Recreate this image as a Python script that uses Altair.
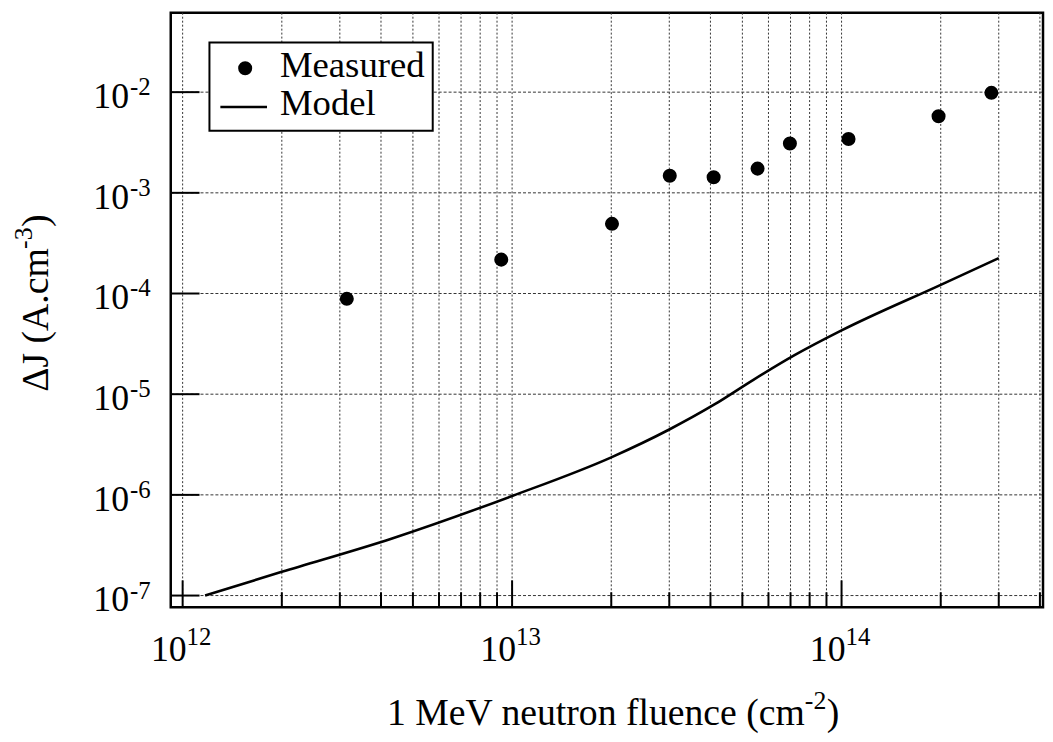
import altair as alt
import pandas as pd

# ---------------- data ----------------
measured_x = [3.15e12, 9.27e12, 2.01e13, 3.01e13, 4.09e13, 5.56e13, 6.97e13, 1.05e14, 1.97e14, 2.85e14]
measured_y = [8.85e-5, 2.17e-4, 4.92e-4, 1.475e-3, 1.43e-3, 1.74e-3, 3.09e-3, 3.42e-3, 5.76e-3, 9.84e-3]

model_x = [1.17e12, 2.0e12, 4.3e12, 1.0e13, 2.0e13, 3.0e13, 4.1e13, 5.4e13, 7.2e13, 1.0e14, 2.0e14, 3.0e14]
model_y = [1.0e-7, 1.72e-7, 3.67e-7, 9.75e-7, 2.36e-6, 4.46e-6, 7.86e-6, 1.39e-5, 2.44e-5, 4.3e-5, 1.22e-4, 2.25e-4]

x_major = [1e12, 1e13, 1e14]
x_major_exp = ["12", "13", "14"]
x_minor = [2e12, 3e12, 4e12, 5e12, 6e12, 7e12, 8e12, 9e12,
           2e13, 3e13, 4e13, 5e13, 6e13, 7e13, 8e13, 9e13,
           2e14, 3e14, 4e14]
y_major = [1e-7, 1e-6, 1e-5, 1e-4, 1e-3, 1e-2]
y_major_exp = ["-7", "-6", "-5", "-4", "-3", "-2"]

x_title_parts = ["1 MeV neutron fluence (cm", "-2", ")"]
y_title_parts = ["\u0394J (A.cm", "-3", ")"]
legend_labels = ["Measured", "Model"]

# ---------------- layout ----------------
W, H = 879, 599
FONT = "Liberation Serif"
FS = 36
FS_SUP = 25
FT = 38
FT_SUP = 26
FL = 37

xs = alt.Scale(type="log", domain=[10 ** 11.9639, 10 ** 14.6115], nice=False)
ys = alt.Scale(type="log", domain=[10 ** -7.1155, 10 ** -1.2115], nice=False)

df_meas = pd.DataFrame({"x": measured_x, "y": measured_y})
df_model = pd.DataFrame({"x": model_x, "y": model_y})
df_xgrid = pd.DataFrame({"v": x_major + x_minor})
df_xmaj = pd.DataFrame({"v": x_major, "base": ["10"] * len(x_major), "exp": x_major_exp})
df_xmin = pd.DataFrame({"v": x_minor})
df_ymaj = pd.DataFrame({"v": y_major, "base": ["10"] * len(y_major), "exp": y_major_exp})
one = pd.DataFrame({"k": [0]})

X = lambda f="v": alt.X(f"{f}:Q", scale=xs, axis=None)
Y = lambda f="v": alt.Y(f"{f}:Q", scale=ys, axis=None)

grid_color = "#333333"

vgrid = alt.Chart(df_xgrid).mark_rule(color=grid_color, strokeWidth=1, strokeDash=[2, 2]).encode(
    x=X(), y=alt.value(0), y2=alt.value(H))
hgrid = alt.Chart(df_ymaj).mark_rule(color=grid_color, strokeWidth=1, strokeDash=[3, 2]).encode(
    y=Y(), x=alt.value(0), x2=alt.value(W))

xtick_min = alt.Chart(df_xmin).mark_rule(color="black", strokeWidth=2).encode(
    x=X(), y=alt.value(H), y2=alt.value(H - 15))
xtick_maj = alt.Chart(df_xmaj).mark_rule(color="black", strokeWidth=2).encode(
    x=X(), y=alt.value(H), y2=alt.value(H - 27))
ytick_maj = alt.Chart(df_ymaj).mark_rule(color="black", strokeWidth=2).encode(
    y=Y(), x=alt.value(0), x2=alt.value(29))

xlab_base = alt.Chart(df_xmaj).mark_text(font=FONT, fontSize=FS, align="right", baseline="alphabetic", dx=4,
                                         color="black").encode(
    x=X(), y=alt.value(H + 54), text="base:N")
xlab_exp = alt.Chart(df_xmaj).mark_text(font=FONT, fontSize=FS_SUP, align="left", baseline="alphabetic", dx=4,
                                        color="black").encode(
    x=X(), y=alt.value(H + 38), text="exp:N")
ylab_base = alt.Chart(df_ymaj).mark_text(font=FONT, fontSize=FS, align="right", baseline="alphabetic", dy=16,
                                         color="black").encode(
    y=Y(), x=alt.value(-42), text="base:N")
ylab_exp = alt.Chart(df_ymaj).mark_text(font=FONT, fontSize=FS_SUP, align="left", baseline="alphabetic", dy=3,
                                        color="black").encode(
    y=Y(), x=alt.value(-41), text="exp:N")


def txt(s, x, y, size, align="left", angle=0):
    return alt.Chart(one).mark_text(font=FONT, fontSize=size, align=align, baseline="alphabetic",
                                    angle=angle, color="black").encode(
        x=alt.value(x), y=alt.value(y), text=alt.value(s))


XT0 = 639
XT_BASE = H + 119
xt1 = txt(x_title_parts[0], XT0, XT_BASE, FT, align="right")
xt2 = txt(x_title_parts[1], XT0, XT_BASE - 16, FT_SUP)
xt3 = txt(x_title_parts[2], XT0 + 22, XT_BASE, FT)

yt1 = txt(y_title_parts[0], -124, 382, FT, angle=270)
yt2 = txt(y_title_parts[1], -140, 238, FT_SUP, angle=270)
yt3 = txt(y_title_parts[2], -124, 216, FT, angle=270)

# data marks
model = alt.Chart(df_model).mark_line(color="black", strokeWidth=2.6, interpolate="monotone").encode(
    x=X("x"), y=Y("y"))
meas = alt.Chart(df_meas).mark_point(filled=True, color="black", size=200, opacity=1, shape="circle").encode(
    x=X("x"), y=Y("y"))

# legend
leg_box = alt.Chart(one).mark_rect(fill="white", stroke="black", strokeWidth=2).encode(
    x=alt.value(39), x2=alt.value(264), y=alt.value(30), y2=alt.value(119))
leg_dot = alt.Chart(one).mark_point(filled=True, color="black", size=200, opacity=1, shape="circle").encode(
    x=alt.value(75), y=alt.value(56))
leg_line = alt.Chart(one).mark_rule(color="black", strokeWidth=2.6).encode(
    x=alt.value(50), x2=alt.value(97), y=alt.value(95))
leg_t1 = txt(legend_labels[0], 110, 65, FL)
leg_t2 = txt(legend_labels[1], 110, 103, FL)

chart = alt.layer(
    vgrid, hgrid, xtick_min, xtick_maj, ytick_maj,
    model, meas,
    leg_box, leg_dot, leg_line, leg_t1, leg_t2,
    xlab_base, xlab_exp, ylab_base, ylab_exp,
    xt1, xt2, xt3, yt1, yt2, yt3,
).properties(
    width=W, height=H,
    padding={"left": 164, "top": 2, "right": 2, "bottom": 125},
    autosize=alt.AutoSizeParams(type="none"),
    background="white",
).configure_view(stroke="black", strokeWidth=2.5)

chart.save("out.html", embed_options={"renderer": "svg", "actions": False})
